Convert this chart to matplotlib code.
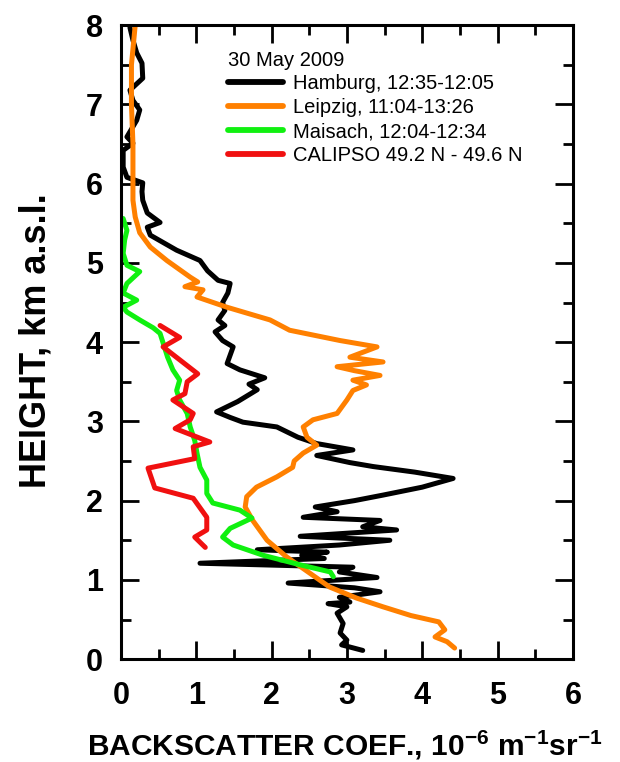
import matplotlib
matplotlib.use("Agg")
import matplotlib.pyplot as plt
from matplotlib.ticker import MultipleLocator

plt.rcParams['font.family'] = ['Liberation Sans', 'DejaVu Sans']
plt.rcParams['mathtext.fontset'] = 'custom'
plt.rcParams['mathtext.rm'] = 'Liberation Sans:bold'
plt.rcParams['mathtext.bf'] = 'Liberation Sans:bold'
plt.rcParams['mathtext.default'] = 'bf'

# profiles: backscatter (1e-6 /m/sr) vs height (km)
ham_h = [0.11, 0.18, 0.24, 0.33, 0.45, 0.58, 0.66, 0.70, 0.72, 0.78,
         0.85, 0.90, 0.96, 1.03, 1.10, 1.16, 1.21, 1.27, 1.31, 1.35,
         1.38, 1.44, 1.50, 1.55, 1.63, 1.67, 1.75, 1.79, 1.86, 1.92,
         2.00, 2.07, 2.17, 2.28, 2.36, 2.43, 2.48, 2.57, 2.64, 2.72,
         2.80, 2.93, 2.99, 3.05, 3.12, 3.25, 3.40, 3.47, 3.55, 3.65,
         3.73, 3.94, 4.02, 4.13, 4.21, 4.28, 4.40, 4.50, 4.62, 4.74,
         4.78, 4.90, 5.03, 5.16, 5.35, 5.45, 5.51, 5.63, 5.79, 5.90,
         6.01, 6.08, 6.21, 6.42, 6.51, 6.59, 6.80, 6.93, 7.05, 7.18,
         7.33, 7.52, 7.65, 7.81, 7.97]
ham_x = [3.21, 2.93, 3.00, 2.91, 2.95, 2.87, 3.00, 2.75, 3.04, 2.90,
         3.44, 3.10, 2.22, 3.40, 2.90, 3.08, 1.05, 2.70, 2.40, 2.74,
         1.81, 2.90, 3.57, 2.38, 3.66, 3.21, 3.44, 2.42, 2.87, 2.58,
         3.10, 3.48, 4.00, 4.41, 3.90, 3.35, 3.04, 2.60, 3.08, 2.60,
         2.35, 2.07, 1.62, 1.45, 1.27, 1.55, 1.81, 1.70, 1.91, 1.58,
         1.41, 1.49, 1.35, 1.25, 1.38, 1.29, 1.38, 1.35, 1.42, 1.45,
         1.29, 1.15, 1.05, 0.74, 0.39, 0.35, 0.52, 0.35, 0.29, 0.28,
         0.29, 0.08, 0.03, 0.03, 0.16, 0.08, 0.21, 0.25, 0.16, 0.12,
         0.29, 0.28, 0.21, 0.16, 0.12]

leip_h = [0.14, 0.22, 0.28, 0.37, 0.47, 0.55, 0.66, 0.77, 0.91, 1.09,
          1.29, 1.50, 1.75, 1.92, 2.05, 2.17, 2.30, 2.42, 2.50, 2.60,
          2.70, 2.80, 2.93, 3.02, 3.10, 3.27, 3.39, 3.46, 3.52, 3.58,
          3.64, 3.69, 3.75, 3.81, 3.94, 4.02, 4.15, 4.28, 4.44, 4.57,
          4.66, 4.70, 4.76, 4.82, 5.03, 5.20, 5.38, 5.58, 5.79, 6.00,
          6.50, 7.00, 7.50, 7.90, 8.00]
leip_x = [4.43, 4.33, 4.17, 4.30, 4.22, 3.85, 3.48, 3.13, 2.77, 2.50,
          2.20, 1.94, 1.75, 1.65, 1.67, 1.80, 2.07, 2.28, 2.30, 2.42,
          2.60, 2.47, 2.42, 2.55, 2.87, 3.00, 3.08, 3.26, 3.08, 3.44,
          3.10, 2.87, 3.48, 3.04, 3.40, 2.91, 2.24, 1.98, 1.41, 1.01,
          1.09, 0.85, 1.02, 0.92, 0.61, 0.39, 0.25, 0.19, 0.16, 0.16,
          0.16, 0.14, 0.14, 0.18, 0.19]

mai_h = [1.04, 1.10, 1.19, 1.31, 1.44, 1.54, 1.65, 1.78, 1.88, 1.97,
         2.09, 2.26, 2.42, 2.60, 2.76, 2.93, 3.10, 3.27, 3.39, 3.52,
         3.65, 3.81, 3.99, 4.11, 4.18, 4.28, 4.38, 4.44, 4.53, 4.62,
         4.74, 4.89, 4.97, 5.12, 5.29, 5.41, 5.56]
mai_x = [2.82, 2.78, 2.38, 1.89, 1.49, 1.35, 1.45, 1.74, 1.58, 1.22,
         1.14, 1.14, 1.05, 1.01, 0.98, 0.92, 0.88, 0.78, 0.74, 0.78,
         0.69, 0.62, 0.56, 0.52, 0.43, 0.25, 0.08, 0.03, 0.21, 0.03,
         0.08, 0.25, 0.08, 0.03, 0.05, 0.08, 0.03]

cal_h = [1.41, 1.54, 1.63, 1.79, 2.03, 2.16, 2.41, 2.53, 2.68, 2.74,
         2.91, 3.02, 3.10, 3.27, 3.35, 3.50, 3.60, 3.94, 4.06, 4.21]
cal_x = [1.12, 0.98, 1.14, 1.14, 0.96, 0.45, 0.36, 0.98, 0.96, 1.18,
         0.72, 0.92, 0.96, 0.69, 0.85, 0.88, 1.02, 0.56, 0.78, 0.52]

labels = ['Hamburg, 12:35-12:05', 'Leipzig, 11:04-13:26',
          'Maisach, 12:04-12:34', 'CALIPSO 49.2 N - 49.6 N']
colors = ['black', '#ff8000', '#10f010', '#f01010']

fig = plt.figure(figsize=(6.2, 7.62), dpi=100)
ax = fig.add_axes([0.195, 0.135, 0.729, 0.832])

for (xs, hs), lab, col in zip([(ham_x, ham_h), (leip_x, leip_h),
                               (mai_x, mai_h), (cal_x, cal_h)], labels, colors):
    ax.plot(xs, hs, color=col, lw=3.6, label=lab,
            solid_joinstyle='round', solid_capstyle='round')

ax.set_xlim(0, 6)
ax.set_ylim(0, 8)
ax.xaxis.set_major_locator(MultipleLocator(1))
ax.xaxis.set_minor_locator(MultipleLocator(0.5))
ax.yaxis.set_major_locator(MultipleLocator(1))
ax.yaxis.set_minor_locator(MultipleLocator(0.5))
ax.tick_params(which='both', direction='in', top=True, right=True, width=2)
ax.tick_params(which='major', length=13)
ax.tick_params(which='minor', length=7)
ax.tick_params(axis='x', which='major', pad=16)
ax.tick_params(axis='y', which='major', pad=13)
for lab in ax.get_xticklabels() + ax.get_yticklabels():
    lab.set_fontsize(22)
    lab.set_fontweight('bold')
for sp in ax.spines.values():
    sp.set_linewidth(2.2)

ax.set_xlabel('BACKSCATTER COEF., 10$^{-6}$ m$^{-1}$sr$^{-1}$',
              fontsize=21.5, fontweight='bold')
ax.set_ylabel('HEIGHT, km a.s.l.', fontsize=26, fontweight='bold')
ax.xaxis.set_label_coords(0.496, -0.11)
ax.yaxis.set_label_coords(-0.149, 0.503)

leg = ax.legend(title='30 May 2009', loc='upper left',
                bbox_to_anchor=(0.237, 0.96), frameon=False, fontsize=14.5,
                title_fontsize=14.5, alignment='left', borderpad=0,
                borderaxespad=0, handlelength=2.75, handletextpad=0.5,
                labelspacing=0.24)
for h in leg.get_lines():
    h.set_linewidth(4.2)

fig.savefig('out.png', dpi=100)
